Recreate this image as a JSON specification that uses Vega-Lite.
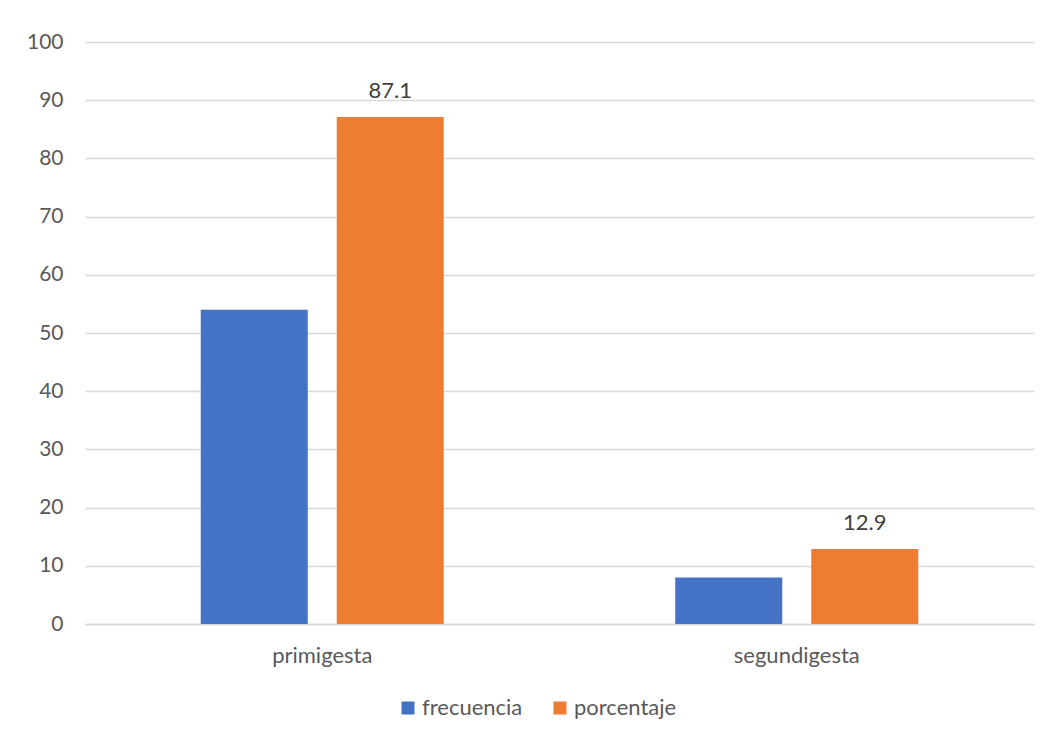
{
  "$schema": "https://vega.github.io/schema/vega-lite/v6.json",
  "width": 949,
  "height": 582,
  "autosize": {"type": "none"},
  "padding": {"left": 85, "top": 42, "right": 21, "bottom": 114},
  "background": "white",
  "config": {
    "view": {"stroke": null},
    "font": "Lato",
    "axis": {"labelFont": "Lato", "labelColor": "#595959", "labelFontSize": 21}
  },
  "data": {
    "values": [
      {"grupo": "primigesta", "serie": "frecuencia", "valor": 54},
      {"grupo": "primigesta", "serie": "porcentaje", "valor": 87.1},
      {"grupo": "segundigesta", "serie": "frecuencia", "valor": 8},
      {"grupo": "segundigesta", "serie": "porcentaje", "valor": 12.9}
    ]
  },
  "encoding": {
    "x": {
      "field": "grupo", "type": "nominal",
      "scale": {"paddingInner": 0, "paddingOuter": 0},
      "axis": {"title": null, "labelAngle": 0, "ticks": false, "domain": true, "domainColor": "#d9d9d9", "domainWidth": 1.5, "labelPadding": 21, "labelFontSize": 22}
    },
    "xOffset": {
      "field": "serie", "type": "nominal",
      "scale": {"paddingInner": 0.213, "paddingOuter": 0.851}
    },
    "y": {
      "field": "valor", "type": "quantitative",
      "scale": {"domain": [0, 100], "nice": false},
      "axis": {"title": null, "values": [0,10,20,30,40,50,60,70,80,90,100], "ticks": false, "domain": false, "gridColor": "#d9d9d9", "gridWidth": 1.5, "labelPadding": 22}
    }
  },
  "layer": [
    {
      "mark": {"type": "bar"},
      "encoding": {
        "color": {
          "field": "serie", "type": "nominal",
          "scale": {"domain": ["frecuencia", "porcentaje"], "range": ["#4472C4", "#ED7D31"]},
          "legend": {
            "title": null, "orient": "none", "direction": "horizontal",
            "legendX": 312, "legendY": 655,
            "symbolType": "square", "symbolSize": 169, "symbolStrokeWidth": 0,
            "labelFont": "Lato", "labelFontSize": 22, "labelColor": "#595959",
            "columnPadding": 26, "labelOffset": 3
          }
        }
      }
    },
    {
      "transform": [{"filter": "datum.serie == 'porcentaje'"}],
      "mark": {"type": "text", "baseline": "alphabetic", "dy": -19, "fontSize": 22, "color": "#404040", "font": "Lato"},
      "encoding": {
        "text": {"field": "valor", "type": "quantitative", "format": ".1f"}
      }
    }
  ]
}
